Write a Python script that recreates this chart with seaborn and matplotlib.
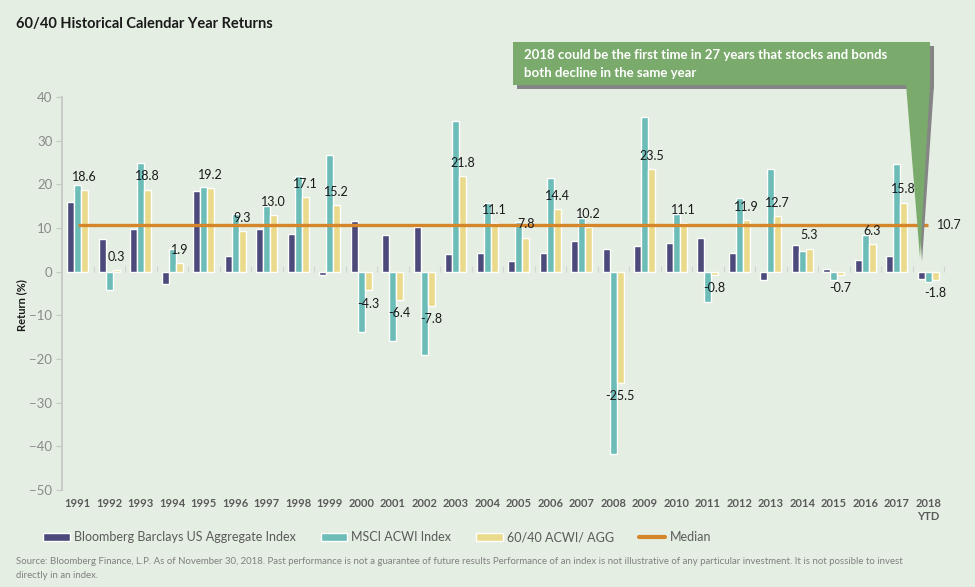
import pandas as pd
import seaborn as sns
import matplotlib.pyplot as plt
from matplotlib.patches import Polygon, Rectangle, Patch
from matplotlib.lines import Line2D

# -----------------------------------------------------------
# data
# -----------------------------------------------------------
years = [str(y) for y in range(1991, 2018)] + ["2018\nYTD"]
agg = [16.0, 7.4, 9.8, -2.9, 18.5, 3.6, 9.7, 8.7, -0.8, 11.6,
       8.4, 10.3, 4.1, 4.3, 2.4, 4.3, 7.0, 5.2, 5.9, 6.5,
       7.8, 4.2, -2.0, 6.0, 0.6, 2.6, 3.5, -1.6]
msci = [19.9, -4.1, 24.9, 5.1, 19.4, 13.2, 15.0, 21.9, 26.8, -13.9,
        -15.9, -19.0, 34.6, 15.7, 11.4, 21.5, 12.2, -41.8, 35.4, 13.2,
        -6.9, 16.8, 23.4, 4.7, -1.8, 8.5, 24.6, -2.4]
mix = [18.6, 0.3, 18.8, 1.9, 19.2, 9.3, 13.0, 17.1, 15.2, -4.3,
       -6.4, -7.8, 21.8, 11.1, 7.8, 14.4, 10.2, -25.5, 23.5, 11.1,
       -0.8, 11.9, 12.7, 5.3, -0.7, 6.3, 15.8, -1.8]
series = ["Bloomberg Barclays US Aggregate Index", "MSCI ACWI Index", "60/40 ACWI/ AGG"]
median = 10.7

BG = "#e4eee2"
NAVY, TEAL, YELLOW, ORANGE = "#4b4a7a", "#6cbdb8", "#eada8c", "#d6862a"
GREEN, SHADOW = "#7aab6c", "#858585"

sns.set_theme(style="white")
plt.rcParams["font.family"] = ["Lato", "DejaVu Sans"]

df = pd.DataFrame({
    "Year": years * 3,
    "Series": [s for s in series for _ in years],
    "Return": agg + msci + mix,
})

W, H = 975, 587
fig = plt.figure(figsize=(W / 100, H / 100), dpi=100, facecolor=BG)


def px(x, y):
    return (x / W, 1 - y / H)


ax = fig.add_axes([62 / W, 1 - 490 / H, (944 - 62) / W, (490 - 97) / H])
ax.set_facecolor(BG)
sns.barplot(data=df, x="Year", y="Return", hue="Series", hue_order=series,
            palette=[NAVY, TEAL, YELLOW], saturation=1, width=0.667, gap=0,
            legend=False, ax=ax, errorbar=None)

ax.set_xlim(-0.5, len(years) - 0.5)
ax.set_ylim(-50, 40)
ax.set_yticks(range(-50, 41, 10))
ax.set_xlabel("")
ax.set_ylabel("")
for s in ["top", "right", "bottom"]:
    ax.spines[s].set_visible(False)
ax.spines["left"].set_color("#c6c6c6")
ax.tick_params(axis="y", colors="#c6c6c6", labelcolor="#8a8a8a", labelsize=9.5,
               length=4, width=0.8, direction="out", left=True, pad=3)
ax.tick_params(axis="x", length=0, labelcolor="#5a5a5a", labelsize=8, pad=6)
for t in ax.get_xticklabels():
    t.set_fontweight("bold")

# zero line with category separators
zero = ax.secondary_xaxis((0 - (-50)) / 90)
zero.set_xticks([i + 0.5 for i in range(len(years) - 1)] + [len(years) - 0.5])
zero.set_xticklabels([])
zero.tick_params(direction="out", length=4, color="#d4d4d4", width=0.8)
zero.spines["bottom"].set_color("#d4d4d4")
for s in ["top", "left", "right"]:
    zero.spines[s].set_visible(False)

# median line
ax.hlines(median, 0, len(years) - 1, color=ORANGE, linewidth=2.4, zorder=5)
ax.annotate(f"{median:.1f}", (len(years) - 1, median), xytext=(6, 0),
            textcoords="offset points", va="center", ha="left", fontsize=9,
            color="#222222")

# 60/40 data labels
for i, v in enumerate(mix):
    ax.annotate(f"{v:.1f}", (i + 0.222, v), xytext=(0, 9.5 if v >= 0 else -9.5),
                textcoords="offset points", ha="center", va="center",
                fontsize=9, color="#1a1a1a", zorder=6)

# titles & footer
fig.text(*px(16, 24), "60/40 Historical Calendar Year Returns", fontsize=10.5,
         fontweight="bold", color="#1a1a1a", va="center", ha="left")
fig.text(*px(22, 305), "Return (%)", rotation=90, fontsize=8, fontweight="bold",
         color="#1a1a1a", va="center", ha="center")
fig.text(*px(16, 562), "Source: Bloomberg Finance, L.P. As of November 30, 2018. Past performance is not a "
         "guarantee of future results Performance of an index is not illustrative of any particular "
         "investment. It is not possible to invest", fontsize=6.9, color="#808080", va="center")
fig.text(*px(16, 576), "directly in an index.", fontsize=6.9, color="#808080", va="center")

# legend
handles = [Patch(facecolor=NAVY), Patch(facecolor=TEAL), Patch(facecolor=YELLOW),
           Line2D([0], [0], color=ORANGE, linewidth=3)]
fig.legend(handles, series + ["Median"], loc="center left",
           bbox_to_anchor=px(32, 537), ncol=4, frameon=False, fontsize=9,
           handlelength=2.1, handleheight=0.6, handletextpad=0.35,
           columnspacing=2.0, labelcolor="#5a5a5a")

# callout box with pointer
tr = fig.transFigure
fig.add_artist(Rectangle(px(517, 89), 417 / W, 43 / H, transform=tr,
                         facecolor=SHADOW, edgecolor="none"))
fig.add_artist(Polygon([px(912, 85), px(934, 85), px(922, 262)], closed=True,
                       transform=tr, facecolor=SHADOW, edgecolor="none"))
fig.add_artist(Rectangle(px(513, 85), 417 / W, 43 / H, transform=tr,
                         facecolor=GREEN, edgecolor="none"))
fig.add_artist(Polygon([px(906, 84), px(930, 84), px(920, 258)], closed=True,
                       transform=tr, facecolor=GREEN, edgecolor="none"))
fig.text(*px(524, 55), "2018 could be the first time in 27 years that stocks and bonds",
         fontsize=9.5, fontweight="bold", color="white", va="center")
fig.text(*px(524, 73), "both decline in the same year",
         fontsize=9.5, fontweight="bold", color="white", va="center")

fig.savefig("out.png", dpi=100, facecolor=BG)
